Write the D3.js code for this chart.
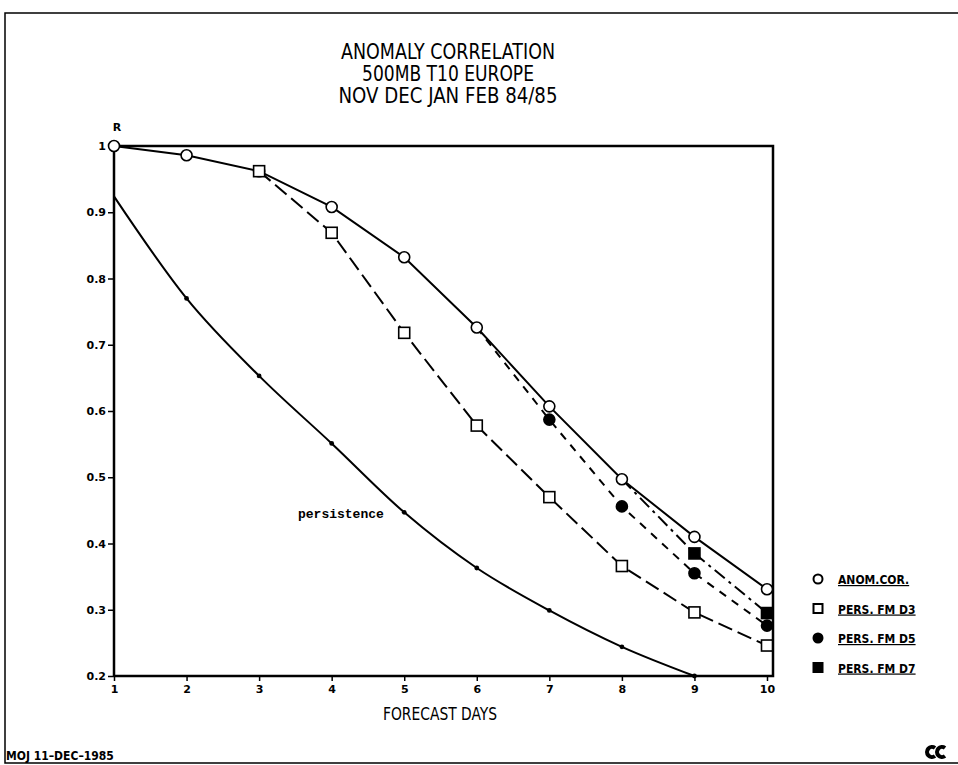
<!DOCTYPE html>
<meta charset="utf-8">
<head>
<style>
body { margin: 0; background: #fff; }
svg { display: block; }
.axis path, .axis line { stroke: #000; }
.axis text { font: bold 11px "DejaVu Sans", sans-serif; fill: #000; }
.ttl { font-family: "Liberation Sans Narrow", "DejaVu Sans Condensed", "Liberation Sans", sans-serif; font-size: 21px; }
.leg text { font: bold 12px "DejaVu Sans Condensed", "DejaVu Sans", sans-serif; text-decoration: underline; }
</style>
</head>
<body>
<script src="https://cdn.jsdelivr.net/npm/d3@7"></script>
<svg id="chart" width="958" height="765"></svg>

<script>

// forecast days
var days = [1, 2, 3, 4, 5, 6, 7, 8, 9, 10];

// anomaly correlation of the forecast
var anomCor   = [1.0, 0.986, 0.962, 0.908, 0.832, 0.726, 0.607, 0.497, 0.41, 0.331];
// persistence of the forecast from day 3, 5 and 7 (null = not plotted)
var persFmD3  = [null, null, 0.962, 0.869, 0.718, 0.578, 0.47, 0.366, 0.296, 0.246];
var persFmD5  = [null, null, null, null, null, 0.726, 0.587, 0.456, 0.355, 0.276];
var persFmD7  = [null, null, null, null, null, null, null, 0.497, 0.385, 0.295];
// persistence (analysis)
var persistence = [0.924, 0.77, 0.653, 0.551, 0.447, 0.363, 0.299, 0.244, 0.2, null];

var yTicks = [0.2, 0.3, 0.4, 0.5, 0.6, 0.7, 0.8, 0.9, 1];
var yTickLabels = ["0.2", "0.3", "0.4", "0.5", "0.6", "0.7", "0.8", "0.9", "1"];

var titleLines = ["ANOMALY CORRELATION", "500MB T10 EUROPE", "NOV DEC JAN FEB 84/85"];
var legendLabels = ["ANOM.COR.", "PERS. FM D3", "PERS. FM D5", "PERS. FM D7"];

var svg = d3.select("#chart"),
    plotLeft = 114, plotRight = 767, plotTop = 146, plotBottom = 676,
    frameRight = 773;

var x = d3.scaleLinear().domain([1, 10]).range([plotLeft, plotRight]);
var y = d3.scaleLinear().domain([0.2, 1]).range([plotBottom, plotTop]);

// page border
svg.append("path")
    .attr("d", "M958,13H5V763H958")
    .attr("fill", "none")
    .attr("stroke", "#000")
    .attr("stroke-width", 1.5);

// title
var titleWidths = [214, 172, 219];
svg.selectAll(".ttl")
  .data(titleLines)
  .enter().append("text")
    .attr("class", "ttl")
    .attr("x", 448)
    .attr("y", function(d, i) { return 59 + i * 22; })
    .attr("text-anchor", "middle")
    .attr("textLength", function(d, i) { return titleWidths[i]; })
    .attr("lengthAdjust", "spacingAndGlyphs")
    .text(function(d) { return d; });

// plot frame
svg.append("path")
    .attr("d", "M" + plotLeft + "," + plotBottom + "V" + plotTop + "H" + frameRight + "V" + plotBottom + "H" + plotLeft)
    .attr("fill", "none")
    .attr("stroke", "#000")
    .attr("stroke-width", 2.5);

var yAxis = svg.append("g")
    .attr("class", "axis")
    .attr("transform", "translate(" + plotLeft + ",0)")
    .call(d3.axisLeft(y).tickValues(yTicks).tickSize(6).tickPadding(2)
      .tickFormat(function(d, i) { return yTickLabels[i]; }));
yAxis.select(".domain").remove();

var xAxis = svg.append("g")
    .attr("class", "axis")
    .attr("transform", "translate(0," + plotBottom + ")")
    .call(d3.axisBottom(x).tickValues(days).tickSize(5).tickPadding(4).tickFormat(d3.format("d")));
xAxis.select(".domain").remove();
xAxis.selectAll("line").attr("stroke-width", 1.5);
yAxis.selectAll("line").attr("stroke-width", 1.5);

svg.append("text")
    .attr("x", plotLeft + 3)
    .attr("y", 131)
    .attr("text-anchor", "middle")
    .style("font", "bold 11px 'DejaVu Sans', sans-serif")
    .text("R");

svg.append("text")
    .attr("x", 440)
    .attr("y", 720)
    .attr("text-anchor", "middle")
    .attr("textLength", 114)
    .attr("lengthAdjust", "spacingAndGlyphs")
    .style("font", "17px 'Liberation Sans Narrow', 'DejaVu Sans Condensed', sans-serif")
    .text("FORECAST DAYS");

// series
var series = [
  {key: "persistence", values: persistence, dash: null, marker: "dot", from: 0, curve: d3.curveMonotoneX},
  {key: "d3", values: persFmD3, dash: "15,6", marker: "square", from: 0, curve: d3.curveLinear},
  {key: "d5", values: persFmD5, dash: "8,7", marker: "disc", from: 1, curve: d3.curveLinear},
  {key: "d7", values: persFmD7, dash: "13,5,3,5", marker: "block", from: 1, curve: d3.curveLinear},
  {key: "anom", values: anomCor, dash: null, marker: "circle", from: 0, curve: d3.curveLinear}
];

series.forEach(function(s) {
  s.points = days.map(function(d, i) { return {day: d, v: s.values[i]}; })
    .filter(function(p) { return p.v != null; });
});

svg.selectAll(".serie")
  .data(series)
  .enter().append("path")
    .attr("class", "serie")
    .attr("d", function(s) {
      return d3.line()
        .curve(s.curve)
        .x(function(d) { return x(d.day); })
        .y(function(d) { return y(d.v); })(s.points);
    })
    .attr("fill", "none")
    .attr("stroke", "#000")
    .attr("stroke-width", 2)
    .attr("stroke-dasharray", function(s) { return s.dash; });

function drawMarker(g, type, cx, cy) {
  if (type == "circle" || type == "disc") {
    g.append("circle").attr("cx", cx).attr("cy", cy).attr("r", 5.5)
      .attr("fill", type == "disc" ? "#000" : "#fff")
      .attr("stroke", "#000").attr("stroke-width", 1.6);
  } else if (type == "square" || type == "block") {
    g.append("rect").attr("x", cx - 5.5).attr("y", cy - 5.5).attr("width", 11).attr("height", 11)
      .attr("fill", type == "block" ? "#000" : "#fff")
      .attr("stroke", "#000").attr("stroke-width", 1.6);
  } else if (type == "dot") {
    g.append("circle").attr("cx", cx).attr("cy", cy).attr("r", 2.4).attr("fill", "#000");
  }
}

var marks = svg.append("g");
// anomaly correlation circles under the persistence markers
[series[4], series[0], series[1], series[2], series[3]].forEach(function(s) {
  s.points.slice(s.from).forEach(function(p) {
    if (s.key == "persistence" && p.day == 1) return;
    drawMarker(marks, s.marker, x(p.day), y(p.v));
  });
});

svg.append("text")
    .attr("x", 298)
    .attr("y", 518)
    .style("font", "bold 13px 'Liberation Mono', monospace")
    .text("persistence");

// legend
var legendMarkers = ["circle", "square", "disc", "block"];
var legend = svg.selectAll(".leg")
  .data(legendLabels)
  .enter().append("g")
    .attr("class", "leg")
    .attr("transform", function(d, i) { return "translate(818," + (579 + i * 29.5) + ")"; });

legend.each(function(d, i) {
  var g = d3.select(this);
  if (legendMarkers[i] == "circle" || legendMarkers[i] == "disc") {
    g.append("circle").attr("r", 4.5)
      .attr("fill", legendMarkers[i] == "disc" ? "#000" : "#fff")
      .attr("stroke", "#000").attr("stroke-width", 2);
  } else {
    g.append("rect").attr("x", -4.5).attr("y", -4.5).attr("width", 9).attr("height", 9)
      .attr("fill", legendMarkers[i] == "block" ? "#000" : "#fff")
      .attr("stroke", "#000").attr("stroke-width", 2);
  }
  g.append("text").attr("x", 20).attr("y", 5).text(d);
});

// footer
svg.append("text")
    .attr("x", 6)
    .attr("y", 760)
    .style("font", "bold 12px 'DejaVu Sans Condensed', 'DejaVu Sans', sans-serif")
    .text("MOJ 11\u2013DEC\u20131985");

// logo
var logo = svg.append("g").attr("transform", "translate(936,752)")
    .attr("fill", "none").attr("stroke", "#000").attr("stroke-width", 4);
logo.append("path").attr("d", "M-1,-4A5,5 0 1,0 -1,4");
logo.append("path").attr("d", "M9,-4A5,5 0 1,0 9,4");

</script>
</body>
</html>
